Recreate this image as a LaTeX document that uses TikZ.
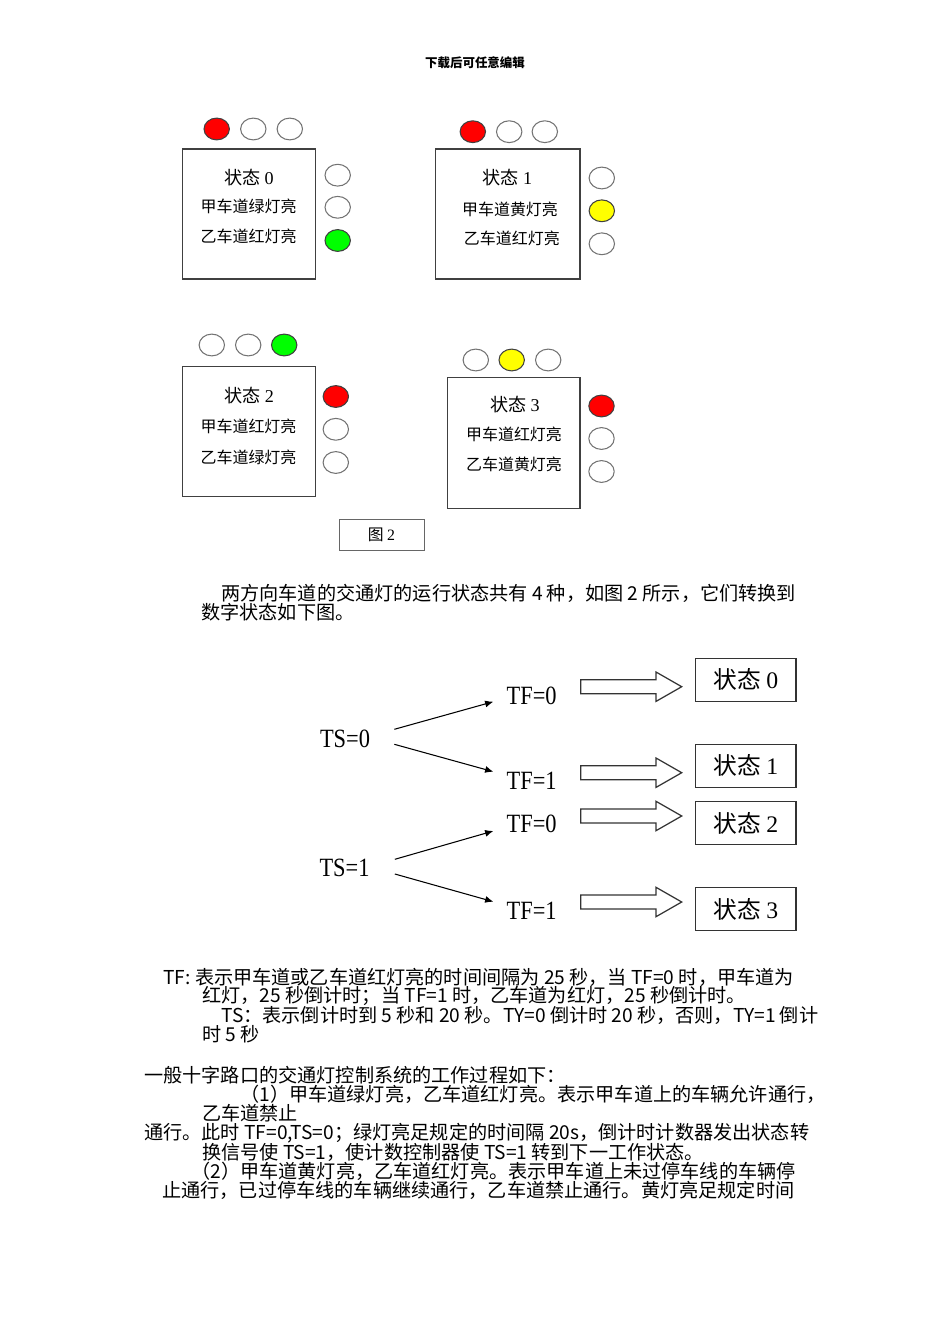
\documentclass[tikz,border=0pt]{standalone}
\usepackage{fontspec}
\usepackage{graphicx}
\setmainfont{Noto Sans CJK SC}
\newfontfamily\timesfont{Liberation Serif}
\usetikzlibrary{shapes.geometric,arrows.meta}

\definecolor{lampred}{RGB}{255,0,0}
\definecolor{lampgreen}{RGB}{0,255,0}
\definecolor{lampyellow}{RGB}{255,255,0}

\tikzset{
  lamp/.style={ellipse,draw=black!55,line width=0.6pt,minimum width=0.508cm,minimum height=0.436cm,inner sep=0pt},
  lampon/.style={lamp,draw=black!75,fill=#1},
  stbox/.style={draw=black!75,line width=0.6pt,minimum width=2.668cm,minimum height=2.6cm,inner sep=0pt},
  boxtitle/.style={inner sep=0pt,font=\fontsize{10.3}{12}\selectfont},
  boxline/.style={inner sep=0pt,font=\fontsize{9.1}{11}\selectfont},
  bodyline/.style={anchor=west,inner sep=0pt,font=\fontsize{10.9}{12}\selectfont},
  tslabel/.style={inner sep=0pt,font=\timesfont\fontsize{15}{15}\selectfont},
  statebox/.style={draw=black!80,line width=0.7pt,minimum width=2.006cm,minimum height=0.86cm,inner sep=0pt,font=\fontsize{13.5}{15}\selectfont},
  thinarr/.style={-{Latex[length=4.7pt,width=4pt]},line width=0.6pt},
  fatarr/.style={draw=black!80,line width=0.7pt,fill=white}
}

\begin{document}
\begin{tikzpicture}[x=0.02cm,y=-0.02cm]
\useasboundingbox (0,0) rectangle (950,1344);

\node[inner sep=0pt,font=\bfseries\fontsize{7.1}{9}\selectfont] (head) at (475,63) {下载后可任意编辑};

% state 0
\node[stbox] (box0) at (249,214) {};
\node[boxtitle] (title0) at (249,177.7) {状态 {\timesfont 0}};
\node[boxline] (line0a) at (248.7,206.7) {甲车道绿灯亮};
\node[boxline] (line0b) at (248.7,236.7) {乙车道红灯亮};
\node[lampon=lampred] (l0t1) at (216.7,129) {};
\node[lamp] (l0t2) at (253.3,129) {};
\node[lamp] (l0t3) at (289.8,129) {};
\node[lamp] (l0r1) at (337.7,175.2) {};
\node[lamp] (l0r2) at (337.7,207.3) {};
\node[lampon=lampgreen] (l0r3) at (337.7,240.5) {};

% state 1
\node[stbox,minimum width=2.886cm] (box1) at (507.85,214) {};
\node[boxtitle] (title1) at (507.5,178) {状态 {\timesfont 1}};
\node[boxline] (line1a) at (510,209) {甲车道黄灯亮};
\node[boxline] (line1b) at (511.8,238.5) {乙车道红灯亮};
\node[lampon=lampred] (l1t1) at (472.8,131.7) {};
\node[lamp] (l1t2) at (509.2,131.7) {};
\node[lamp] (l1t3) at (544.8,131.7) {};
\node[lamp] (l1r1) at (601.8,178) {};
\node[lampon=lampyellow] (l1r2) at (601.8,210.8) {};
\node[lamp] (l1r3) at (601.8,243.8) {};

% state 2
\node[stbox] (box2) at (249,431.7) {};
\node[boxtitle] (title2) at (249.3,396) {状态 {\timesfont 2}};
\node[boxline] (line2a) at (248.5,426) {甲车道红灯亮};
\node[boxline] (line2b) at (248.5,457) {乙车道绿灯亮};
\node[lamp] (l2t1) at (211.8,345) {};
\node[lamp] (l2t2) at (248.2,345) {};
\node[lampon=lampgreen] (l2t3) at (284.2,345) {};
\node[lampon=lampred] (l2r1) at (335.8,396.5) {};
\node[lamp] (l2r2) at (335.8,429.3) {};
\node[lamp] (l2r3) at (335.8,462.5) {};

% state 3
\node[stbox,minimum width=2.646cm,minimum height=2.612cm] (box3) at (513.85,443) {};
\node[boxtitle] (title3) at (515,405) {状态 {\timesfont 3}};
\node[boxline] (line3a) at (514,434) {甲车道红灯亮};
\node[boxline] (line3b) at (514,464) {乙车道黄灯亮};
\node[lamp] (l3t1) at (475.8,360) {};
\node[lampon=lampyellow] (l3t2) at (511.7,360) {};
\node[lamp] (l3t3) at (548.2,360) {};
\node[lampon=lampred] (l3r1) at (601.5,406) {};
\node[lamp] (l3r2) at (601.5,438.5) {};
\node[lamp] (l3r3) at (601.5,471.5) {};

% caption
\node[draw=black!60,line width=0.5pt,minimum width=1.7cm,minimum height=0.62cm,inner sep=0pt,font=\fontsize{9}{11}\selectfont] (cap) at (381.5,534.5) {图 {\timesfont 2}};

\node[bodyline] (p1) at (221,593) {两方向车道的交通灯的运行状态共有 4 种，如图 2 所示，它们转换到};
\node[bodyline] (p2) at (201,612) {数字状态如下图。};

% state transitions
\node[tslabel] (ts0) at (345,739.3) {\scalebox{0.85}[1]{TS=0}};
\node[tslabel] (ts1) at (344.5,868.3) {\scalebox{0.85}[1]{TS=1}};
\node[tslabel] (tf0a) at (531.7,695.7) {\scalebox{0.85}[1]{TF=0}};
\node[tslabel] (tf1a) at (531.7,781) {\scalebox{0.85}[1]{TF=1}};
\node[tslabel] (tf0b) at (531.7,824) {\scalebox{0.85}[1]{TF=0}};
\node[tslabel] (tf1b) at (531.7,910.7) {\scalebox{0.85}[1]{TF=1}};
\node[statebox] (s0) at (745.85,679.7) {状态 {\timesfont 0}};
\node[statebox] (s1) at (745.85,765.8) {状态 {\timesfont 1}};
\node[statebox] (s2) at (745.85,823.35) {状态 {\timesfont 2}};
\node[statebox] (s3) at (745.85,909.35) {状态 {\timesfont 3}};

\draw[thinarr] ([shift={(24,-10)}]ts0.east) -- ([shift={(-13,6)}]tf0a.west);
\draw[thinarr] ([shift={(24,5)}]ts0.east) -- ([shift={(-13,-9.3)}]tf1a.west);
\draw[thinarr] ([shift={(25,-9)}]ts1.east) -- ([shift={(-13,7)}]tf0b.west);
\draw[thinarr] ([shift={(25,5.7)}]ts1.east) -- ([shift={(-13,-9)}]tf1b.west);

\coordinate (fa0) at (580.7,686.7);
\coordinate (fa1) at (580.7,772.7);
\coordinate (fa2) at (580.7,816);
\coordinate (fa3) at (580.7,902);
\draw[fatarr] (fa0) ++(0,-7) -- ++(75.3,0) -- ++(0,-7.7) -- ++(25.7,14.7) -- ++(-25.7,14.7) -- ++(0,-7.7) -- ++(-75.3,0) -- cycle;
\draw[fatarr] (fa1) ++(0,-7) -- ++(75.3,0) -- ++(0,-7.7) -- ++(25.7,14.7) -- ++(-25.7,14.7) -- ++(0,-7.7) -- ++(-75.3,0) -- cycle;
\draw[fatarr] (fa2) ++(0,-7) -- ++(75.3,0) -- ++(0,-7.7) -- ++(25.7,14.7) -- ++(-25.7,14.7) -- ++(0,-7.7) -- ++(-75.3,0) -- cycle;
\draw[fatarr] (fa3) ++(0,-7) -- ++(75.3,0) -- ++(0,-7.7) -- ++(25.7,14.7) -- ++(-25.7,14.7) -- ++(0,-7.7) -- ++(-75.3,0) -- cycle;

% explanation text
\node[bodyline] (q1) at (163,977) {TF: 表示甲车道或乙车道红灯亮的时间间隔为 25 秒，当 TF=0 时，甲车道为};
\node[bodyline] (q2) at (202,996) {红灯，25 秒倒计时；当 TF=1 时，乙车道为红灯，25 秒倒计时。};
\node[bodyline] (q3) at (221,1015) {TS：表示倒计时到 5 秒和 20 秒。TY=0 倒计时 20 秒，否则，TY=1 倒计};
\node[bodyline] (q4) at (202,1034) {时 5 秒};
\node[bodyline] (r1) at (144,1075) {一般十字路口的交通灯控制系统的工作过程如下：};
\node[bodyline] (r2) at (240,1094) {（1）甲车道绿灯亮，乙车道红灯亮。表示甲车道上的车辆允许通行，};
\node[bodyline] (r3) at (202,1113) {乙车道禁止};
\node[bodyline] (r4) at (144,1133) {通行。此时 TF=0,TS=0；绿灯亮足规定的时间隔 20s，倒计时计数器发出状态转};
\node[bodyline] (r5) at (202,1152) {换信号使 TS=1，使计数控制器使 TS=1 转到下一工作状态。};
\node[bodyline] (r6) at (191,1171) {（2）甲车道黄灯亮，乙车道红灯亮。表示甲车道上未过停车线的车辆停};
\node[bodyline] (r7) at (162,1190) {止通行，已过停车线的车辆继续通行，乙车道禁止通行。黄灯亮足规定时间};
\end{tikzpicture}
\end{document}
